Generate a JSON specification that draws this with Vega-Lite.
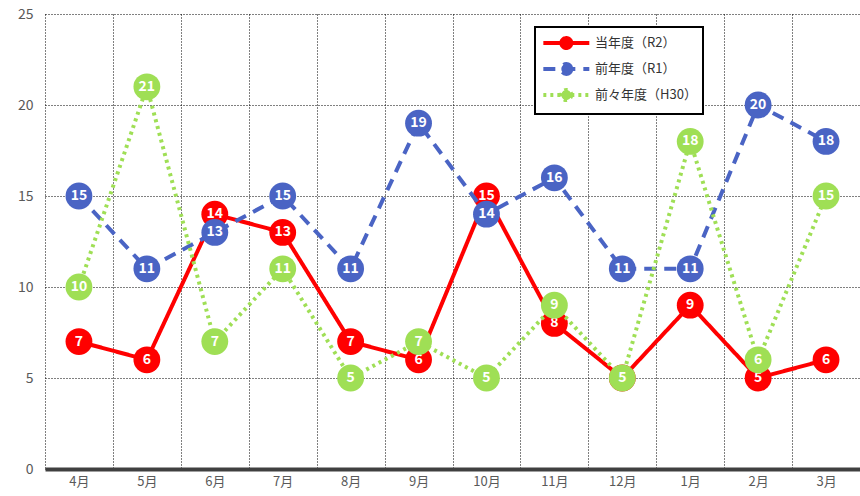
{
  "$schema": "https://vega.github.io/schema/vega-lite/v6.json",
  "width": 815,
  "height": 455,
  "autosize": {"type": "none"},
  "padding": {"left": 45, "top": 14, "right": 0, "bottom": 27},
  "background": "white",
  "config": {
    "font": "Noto Sans CJK JP",
    "view": {"stroke": null},
    "legend": {
      "orient": "none",
      "legendX": 490,
      "legendY": 13,
      "strokeColor": "black",
      "strokeWidth": 2,
      "fillColor": "white",
      "padding": 6,
      "labelFontSize": 13,
      "labelColor": "#333333",
      "labelFont": "Noto Sans CJK JP",
      "symbolType": "M-1,0H5M2.65,0A0.65,0.65,0,1,1,1.35,0A0.65,0.65,0,1,1,2.65,0Z",
      "symbolSize": 235,
      "symbolStrokeWidth": 4,
      "rowPadding": 0,
      "labelOffset": 34
    }
  },
  "data": {
    "values": [
      {"month": "4月", "series": "当年度（R2）", "value": 7},
      {"month": "5月", "series": "当年度（R2）", "value": 6},
      {"month": "6月", "series": "当年度（R2）", "value": 14},
      {"month": "7月", "series": "当年度（R2）", "value": 13},
      {"month": "8月", "series": "当年度（R2）", "value": 7},
      {"month": "9月", "series": "当年度（R2）", "value": 6},
      {"month": "10月", "series": "当年度（R2）", "value": 15},
      {"month": "11月", "series": "当年度（R2）", "value": 8},
      {"month": "12月", "series": "当年度（R2）", "value": 5},
      {"month": "1月", "series": "当年度（R2）", "value": 9},
      {"month": "2月", "series": "当年度（R2）", "value": 5},
      {"month": "3月", "series": "当年度（R2）", "value": 6},
      {"month": "4月", "series": "前年度（R1）", "value": 15},
      {"month": "5月", "series": "前年度（R1）", "value": 11},
      {"month": "6月", "series": "前年度（R1）", "value": 13},
      {"month": "7月", "series": "前年度（R1）", "value": 15},
      {"month": "8月", "series": "前年度（R1）", "value": 11},
      {"month": "9月", "series": "前年度（R1）", "value": 19},
      {"month": "10月", "series": "前年度（R1）", "value": 14},
      {"month": "11月", "series": "前年度（R1）", "value": 16},
      {"month": "12月", "series": "前年度（R1）", "value": 11},
      {"month": "1月", "series": "前年度（R1）", "value": 11},
      {"month": "2月", "series": "前年度（R1）", "value": 20},
      {"month": "3月", "series": "前年度（R1）", "value": 18},
      {"month": "4月", "series": "前々年度（H30）", "value": 10},
      {"month": "5月", "series": "前々年度（H30）", "value": 21},
      {"month": "6月", "series": "前々年度（H30）", "value": 7},
      {"month": "7月", "series": "前々年度（H30）", "value": 11},
      {"month": "8月", "series": "前々年度（H30）", "value": 5},
      {"month": "9月", "series": "前々年度（H30）", "value": 7},
      {"month": "10月", "series": "前々年度（H30）", "value": 5},
      {"month": "11月", "series": "前々年度（H30）", "value": 9},
      {"month": "12月", "series": "前々年度（H30）", "value": 5},
      {"month": "1月", "series": "前々年度（H30）", "value": 18},
      {"month": "2月", "series": "前々年度（H30）", "value": 6},
      {"month": "3月", "series": "前々年度（H30）", "value": 15}
    ]
  },
  "encoding": {
    "x": {
      "field": "month",
      "type": "nominal",
      "scale": {
        "domain": ["4月", "5月", "6月", "7月", "8月", "9月", "10月", "11月", "12月", "1月", "2月", "3月"],
        "paddingInner": 0,
        "paddingOuter": 0
      },
      "axis": {
        "title": null,
        "labelAngle": 0,
        "labelFontSize": 13,
        "labelColor": "#595959",
        "labelPadding": 6,
        "ticks": false,
        "tickBand": "extent",
        "grid": true,
        "gridColor": "#000000",
        "gridDash": [1, 2],
        "gridWidth": 1,
        "domain": true,
        "domainColor": "#404040",
        "domainWidth": 4
      }
    },
    "y": {
      "field": "value",
      "type": "quantitative",
      "scale": {"domain": [0, 25], "nice": false},
      "axis": {
        "title": null,
        "values": [0, 5, 10, 15, 20, 25],
        "labelFontSize": 14,
        "labelColor": "#595959",
        "labelPadding": 12,
        "ticks": false,
        "domain": false,
        "grid": true,
        "gridColor": "#000000",
        "gridDash": [1, 2],
        "gridWidth": 1
      }
    }
  },
  "layer": [
    {
      "transform": [{"filter": "datum.series === '当年度（R2）'"}],
      "layer": [
        {
          "mark": {"type": "line", "strokeWidth": 4},
          "encoding": {
            "color": {
              "field": "series", "type": "nominal",
              "scale": {"domain": ["当年度（R2）", "前年度（R1）", "前々年度（H30）"], "range": ["#FF0000", "#4A64C4", "#9FDF55"]},
              "legend": {"title": null, "encode": {"symbols": {"update": {"fill": {"scale": "color", "field": "value"}}}}}
            },
            "strokeDash": {
              "field": "series", "type": "nominal",
              "scale": {"domain": ["当年度（R2）", "前年度（R1）", "前々年度（H30）"], "range": [[1, 0], [12, 8], [3, 4]]},
              "legend": {"title": null}
            }
          }
        },
        {"mark": {"type": "point", "filled": true, "size": 720, "opacity": 1, "color": "#FF0000"}, "encoding": {}},
        {"mark": {"type": "text", "color": "white", "fontWeight": 600, "fontSize": 14}, "encoding": {"text": {"field": "value", "type": "quantitative"}}}
      ]
    },
    {
      "transform": [{"filter": "datum.series === '前年度（R1）'"}],
      "layer": [
        {
          "mark": {"type": "line", "strokeWidth": 4},
          "encoding": {
            "color": {"field": "series", "type": "nominal"},
            "strokeDash": {"field": "series", "type": "nominal"}
          }
        },
        {"mark": {"type": "point", "filled": true, "size": 720, "opacity": 1, "color": "#4A64C4"}, "encoding": {}},
        {"mark": {"type": "text", "color": "white", "fontWeight": 600, "fontSize": 14}, "encoding": {"text": {"field": "value", "type": "quantitative"}}}
      ]
    },
    {
      "transform": [{"filter": "datum.series === '前々年度（H30）'"}],
      "layer": [
        {
          "mark": {"type": "line", "strokeWidth": 4},
          "encoding": {
            "color": {"field": "series", "type": "nominal"},
            "strokeDash": {"field": "series", "type": "nominal"}
          }
        },
        {"mark": {"type": "point", "filled": true, "size": 720, "opacity": 1, "color": "#9FDF55"}, "encoding": {}},
        {"mark": {"type": "text", "color": "white", "fontWeight": 600, "fontSize": 14}, "encoding": {"text": {"field": "value", "type": "quantitative"}}}
      ]
    }
  ]
}
